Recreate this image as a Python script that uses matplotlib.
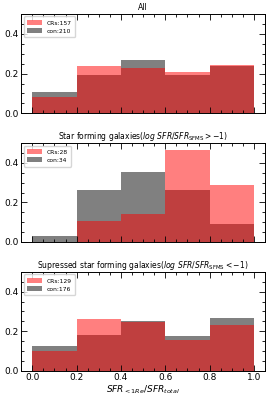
import matplotlib
matplotlib.use("Agg")
import matplotlib.pyplot as plt
import numpy as np
from matplotlib.ticker import MultipleLocator

bin_edges = [0.0, 0.2, 0.4, 0.6, 0.8, 1.0]

titles = ["All",
          r"Star forming galaxies($log\ SFR/SFR_{\rm SFMS} > -1$)",
          r"Supressed star forming galaxies($log\ SFR/SFR_{\rm SFMS} < -1$)"]

crs_counts = [
    [13, 37, 36, 33, 38],
    [0, 3, 4, 13, 8],
    [13, 34, 32, 20, 30],
]
con_counts = [
    [23, 41, 56, 40, 50],
    [1, 9, 12, 9, 3],
    [22, 32, 44, 31, 47],
]
crs_n = [157, 28, 129]
con_n = [210, 34, 176]

fig = plt.figure(figsize=(2.70, 3.98), dpi=100)
W, H = 270.0, 398.0
left = 21.2 / W
right = 265.0 / W
panels_px = [(14.0, 113.3), (143.3, 241.7), (272.0, 370.7)]

centers = [(a + b) / 2 for a, b in zip(bin_edges[:-1], bin_edges[1:])]

for i, (top_px, bot_px) in enumerate(panels_px):
    ax = fig.add_axes([left, 1 - bot_px / H, right - left, (bot_px - top_px) / H])
    w_con = np.array(con_counts[i]) / con_n[i]
    w_crs = np.array(crs_counts[i]) / crs_n[i]
    _, _, p_con = ax.hist(centers, bins=bin_edges, weights=w_con, color="gray",
                          alpha=1.0, label=f"con:{con_n[i]}")
    _, _, p_crs = ax.hist(centers, bins=bin_edges, weights=w_crs, color="red",
                          alpha=0.5, label=f"CRs:{crs_n[i]}")
    ax.set_xlim(-0.05, 1.05)
    ax.set_ylim(0, 0.5)
    ax.xaxis.set_major_locator(MultipleLocator(0.2))
    ax.xaxis.set_minor_locator(MultipleLocator(0.05))
    ax.yaxis.set_major_locator(MultipleLocator(0.2))
    ax.yaxis.set_minor_locator(MultipleLocator(0.05))
    ax.tick_params(which="both", direction="in", top=True, right=True, width=0.6)
    ax.tick_params(which="major", length=4, labelsize=6.5, pad=1.5)
    ax.tick_params(which="minor", length=2)
    for s in ax.spines.values():
        s.set_linewidth(0.7)
    if i < 2:
        ax.tick_params(labelbottom=False)
    else:
        ax.set_xlabel(r"$SFR_{<1Re}/SFR_{total}$", fontsize=6.5, labelpad=1)
    ax.set_title(titles[i], fontsize=5.5, pad=3)
    ax.legend(handles=[p_crs[0], p_con[0]],
              labels=[f"CRs:{crs_n[i]}", f"con:{con_n[i]}"],
              loc="upper left", fontsize=4.3, frameon=True,
              handlelength=2.4, handleheight=0.9, borderpad=0.6,
              labelspacing=0.45, fancybox=True, framealpha=0.8,
              borderaxespad=0.4)

fig.savefig("out.png", dpi=100)
